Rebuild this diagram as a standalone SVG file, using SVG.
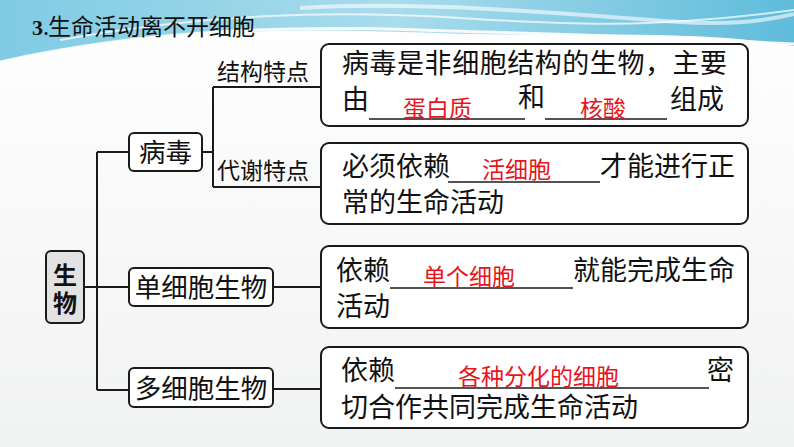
<svg xmlns="http://www.w3.org/2000/svg" width="794" height="447" viewBox="0 0 794 447">
<defs>
<linearGradient id="sky" x1="0" y1="0" x2="1" y2="0">
<stop offset="0" stop-color="#7fcbe3"/>
<stop offset="0.5" stop-color="#a9dcec"/>
<stop offset="1" stop-color="#5fbcdb"/>
</linearGradient>
<linearGradient id="bg" x1="0" y1="0" x2="0" y2="1">
<stop offset="0" stop-color="#ffffff"/>
<stop offset="1" stop-color="#f1f2f2"/>
</linearGradient>
</defs>
<style>
.t{font-family:"Noto Sans CJK SC","Noto Sans",sans-serif;fill:#111;}
.bx{fill:#fff;stroke:#1a1a1a;stroke-width:2;}
.ln{stroke:#1a1a1a;stroke-width:2;fill:none;}
.ul{stroke:#1a1a1a;stroke-width:1.5;}
.r{font-family:"Noto Sans CJK SC","Noto Sans",sans-serif;fill:#e8141c;font-size:23px;}
.b{font-size:27px;}
.lab{font-size:23px;}
.n{font-size:26.5px;}
</style>
<rect width="794" height="447" fill="url(#bg)"/>
<g id="banner">
<path d="M0,0 H794 V46 C700,30 600,36 470,34 C330,30 180,22 0,62 Z" fill="url(#sky)"/>
<path d="M0,62 C150,28 300,26 420,30 C500,33 600,34 794,44" fill="none" stroke="#ffffff" stroke-width="3" opacity="0.9"/>
<path d="M60,40 C200,14 330,10 460,18 C560,24 640,30 794,10" fill="none" stroke="#ffffff" stroke-width="2" opacity="0.7"/>
<path d="M300,8 C420,0 560,14 680,22 C730,25 770,20 794,14" fill="none" stroke="#ffffff" stroke-width="4" opacity="0.6"/>
</g>
<g id="title">
<text x="32" y="35" style="font-family:'Liberation Serif',serif;font-weight:bold;font-size:22px;fill:#111">3</text>
<text x="43" y="35" class="t" style="font-size:22px">.</text>
<text x="48" y="35" class="t" style="font-size:23px">生命活动离不开细胞</text>
</g>
<g id="connectors">
<path class="ln" d="M84,287 H97 M97,152 V390 M97,152 H129 M97,287 H129 M97,390 H129"/>
<path class="ln" d="M202,152 H213 M213,87 V187 M213,87 H321 M213,187 H321"/>
<path class="ln" d="M273,287 H321 M273,389 H321"/>
</g>
<g id="root">
<rect x="46" y="251" width="38" height="72" rx="5" fill="#e2e2e2" stroke="#1a1a1a" stroke-width="2"/>
<text x="65" y="284" text-anchor="middle" class="t" style="font-size:24px;font-weight:bold">生</text>
<text x="65" y="312" text-anchor="middle" class="t" style="font-size:24px;font-weight:bold">物</text>
</g>
<g id="virus">
<rect class="bx" x="129" y="133" width="73" height="38" rx="5"/>
<text x="165.5" y="162" text-anchor="middle" class="t n">病毒</text>
</g>
<g id="label-structure">
<text x="217" y="80" class="t lab">结构特点</text>
</g>
<g id="label-metabolism">
<text x="217" y="179" class="t lab">代谢特点</text>
</g>
<g id="unicellular">
<rect class="bx" x="129" y="268" width="144" height="38" rx="5"/>
<text x="201" y="297" text-anchor="middle" class="t n">单细胞生物</text>
</g>
<g id="multicellular">
<rect class="bx" x="129" y="368" width="144" height="39" rx="5"/>
<text x="201" y="398" text-anchor="middle" class="t n">多细胞生物</text>
</g>
<g id="box-structure">
<rect class="bx" x="321" y="44" width="427" height="82" rx="8"/>
<text x="342" y="73" class="t b" textLength="385" lengthAdjust="spacing">病毒是非细胞结构的生物，主要</text>
<text x="342" y="109" class="t b">由</text>
<line class="ul" x1="369" y1="119" x2="525" y2="119"/>
<text x="403" y="117" class="r">蛋白质</text>
<text x="518" y="107" class="t b">和</text>
<line class="ul" x1="545" y1="119" x2="667" y2="119"/>
<text x="580" y="117" class="r">核酸</text>
<text x="670" y="109" class="t b">组成</text>
</g>
<g id="box-metabolism">
<rect class="bx" x="321" y="143" width="427" height="81" rx="8"/>
<text x="342" y="176" class="t b">必须依赖</text>
<line class="ul" x1="448" y1="182" x2="600" y2="182"/>
<text x="482" y="178" class="r">活细胞</text>
<text x="600" y="176" class="t b">才能进行正</text>
<text x="342" y="212" class="t b">常的生命活动</text>
</g>
<g id="box-unicellular">
<rect class="bx" x="321" y="246" width="427" height="82" rx="8"/>
<text x="336" y="280" class="t b">依赖</text>
<line class="ul" x1="390" y1="288" x2="573" y2="288"/>
<text x="423" y="285" class="r">单个细胞</text>
<text x="573" y="280" class="t b">就能完成生命</text>
<text x="336" y="316" class="t b">活动</text>
</g>
<g id="box-multicellular">
<rect class="bx" x="321" y="347" width="427" height="81" rx="8"/>
<text x="341" y="380" class="t b">依赖</text>
<line class="ul" x1="395" y1="388" x2="709" y2="388"/>
<text x="458" y="385" class="r">各种分化的细胞</text>
<text x="707" y="380" class="t b">密</text>
<text x="341" y="417" class="t b">切合作共同完成生命活动</text>
</g>
</svg>
